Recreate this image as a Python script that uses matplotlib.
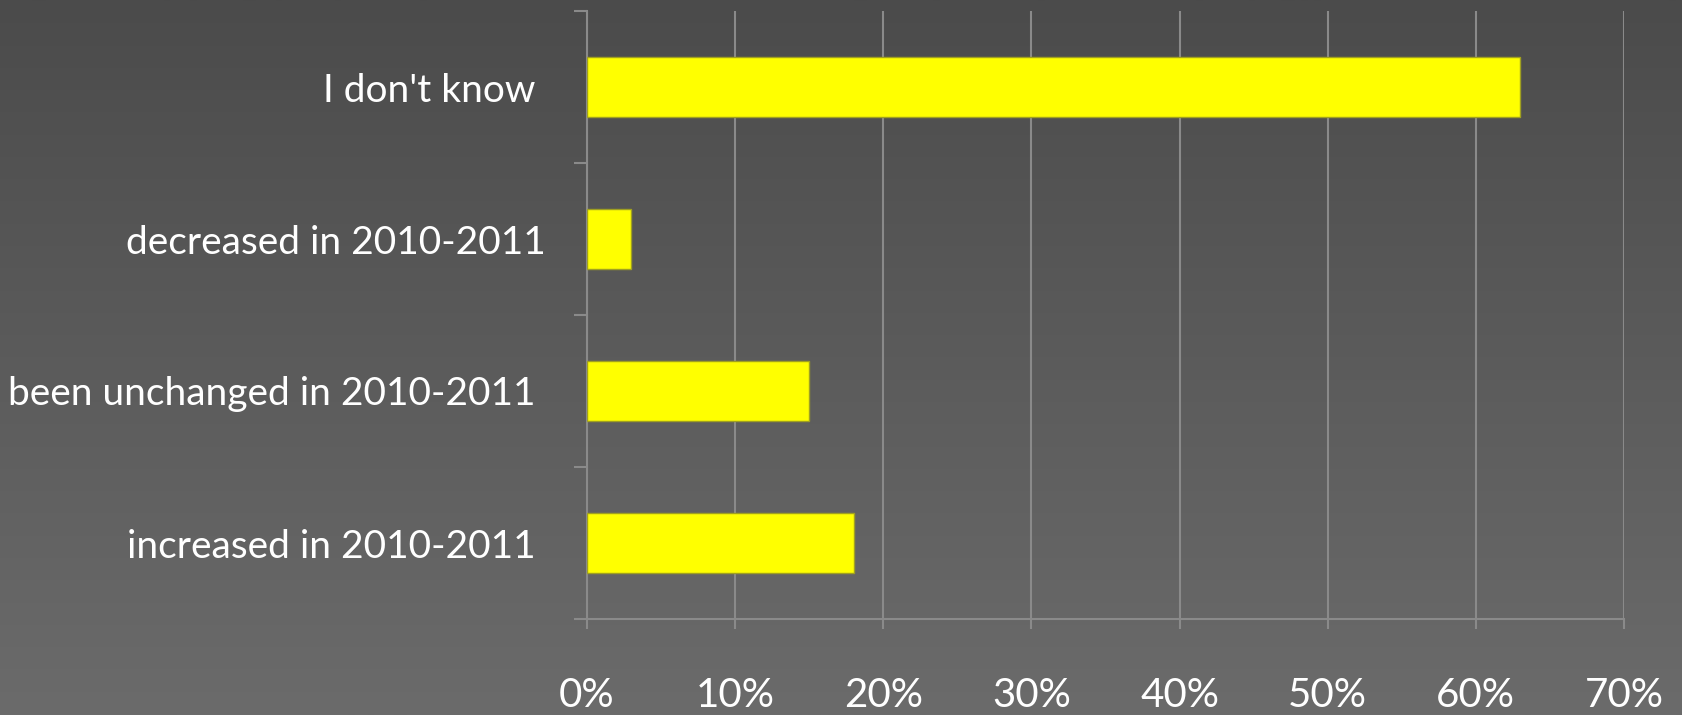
import numpy as np
import matplotlib.pyplot as plt

categories = ["increased in 2010-2011 ", "been unchanged in 2010-2011 ",
              "decreased in 2010-2011", "I don't know "]
values = [18, 15, 3, 63]
xticks = [0, 10, 20, 30, 40, 50, 60, 70]

grid_col = '#8a8a8a'

fig = plt.figure(figsize=(16.83, 7.15), dpi=100)

# gradient background
bg = fig.add_axes([0, 0, 1, 1], zorder=-1)
grad = np.linspace(0, 1, 256).reshape(-1, 1)
bg.imshow(grad, aspect='auto', cmap=plt.matplotlib.colors.LinearSegmentedColormap.from_list(
    'g', ['#4b4b4b', '#6b6b6b']), extent=[0, 1, 0, 1], origin='upper')
bg.axis('off')

ax = fig.add_axes([587/1683, 96/715, (1624-587)/1683, (619-11)/715])
ax.patch.set_alpha(0)

y = np.arange(len(categories))
ax.barh(y, values, height=0.4, color='#ffff00', edgecolor='#a0a020', linewidth=1, zorder=3)

ax.set_xlim(0, 70)
ax.set_ylim(-0.5, 3.5)
ax.set_xticks(xticks)
ax.set_xticklabels([f"{v}%" for v in xticks])
ax.set_yticks(y)
ax.set_yticklabels(categories)
ax.set_yticks(np.arange(-0.5, 4, 1), minor=True)

ax.grid(axis='x', color=grid_col, linewidth=1.5, zorder=0)
for s in ['top', 'right']:
    ax.spines[s].set_visible(False)
for s in ['left', 'bottom']:
    ax.spines[s].set_color(grid_col)
    ax.spines[s].set_linewidth(1.5)

ax.tick_params(axis='y', which='major', length=0, pad=30, labelsize=28,
               labelcolor='white', labelfontfamily='Lato')
ax.tick_params(axis='y', which='minor', length=9.4, width=1.5, color=grid_col, direction='out')
ax.tick_params(axis='x', length=7, width=1.5, color=grid_col, pad=35, labelsize=29,
               labelcolor='white', labelfontfamily='Lato')

fig.savefig('out.png', dpi=100)
